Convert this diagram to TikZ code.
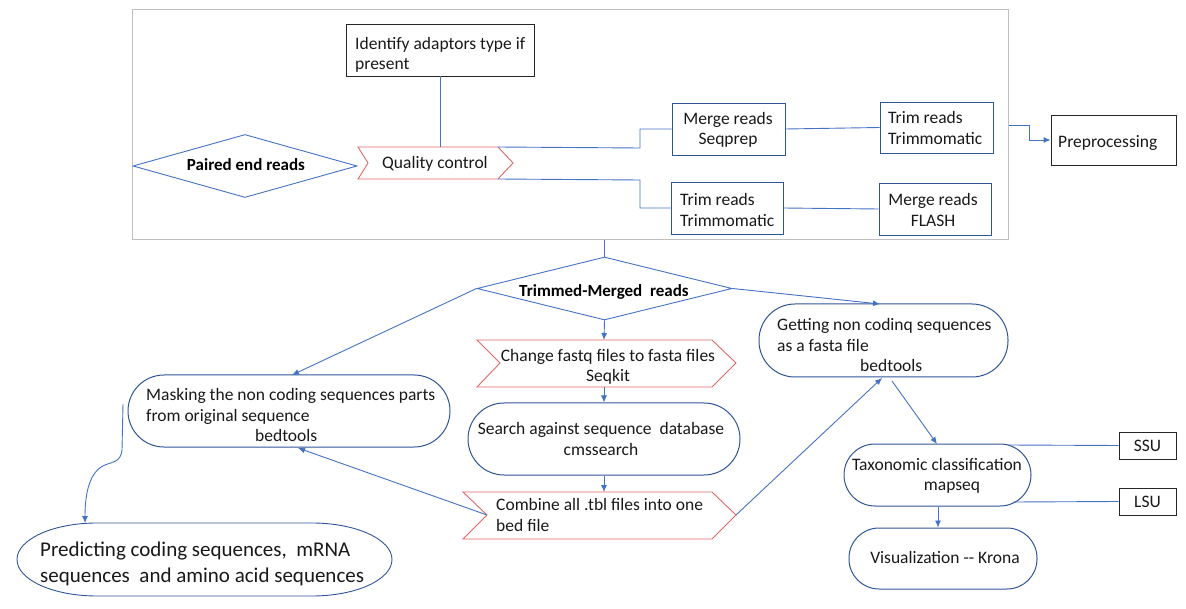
\documentclass[tikz,border=0pt]{standalone}
\usepackage{fontspec}
\setmainfont{Carlito}
\usetikzlibrary{arrows.meta,shapes.geometric}
\definecolor{lb}{HTML}{4472C4}
\definecolor{db}{HTML}{2F5597}
\definecolor{rd}{HTML}{E06666}
\definecolor{gr}{HTML}{BFBFBF}
\tikzset{
  txt/.style={font=\fontsize{17.5}{20.5}\selectfont, inner sep=0pt, align=left, text=black!90},
  btxt/.style={font=\fontsize{17}{20}\selectfont\bfseries, inner sep=0pt, align=center, text=black},
  conn/.style={draw=lb, line width=0.9pt},
  arr/.style={conn, -{Latex[length=7pt,width=6pt]}},
  kbox/.style={draw=black!85, line width=0.9pt, inner sep=0pt},
  bbox/.style={draw=db, line width=0.9pt, inner sep=0pt},
  stad/.style={draw=db, line width=1pt, inner sep=0pt, rounded corners=#1},
  diam/.style={diamond, draw=lb, line width=0.9pt, inner sep=0pt},
  chev/.style={draw=rd, line width=0.9pt},
}
\begin{document}
\begin{tikzpicture}[x=1pt,y=-1pt]
\useasboundingbox (0,0) rectangle (1186,609);

% outer preprocessing frame
\node[draw=gr, line width=1pt, minimum width=876pt, minimum height=230pt, inner sep=0pt] (outer) at (570,125) {};

% top section
\node[kbox, minimum width=188pt, minimum height=52pt] (id) at (440,50) {};
\node[txt, anchor=west] (idt) at (355,55) {Identify adaptors type if\\present};

\node[diam, minimum width=224pt, minimum height=63pt] (pe) at (245,166) {};
\node[btxt] (pet) at (246,165) {Paired end reads};

% quality control chevron
\coordinate (qc-nw) at (358,147);
\coordinate (qc-ne) at (498,147);
\coordinate (qc-e) at (513,163);
\coordinate (qc-se) at (498,179);
\coordinate (qc-sw) at (358,179);
\coordinate (qc-w) at (368,163);
\draw[chev] (qc-nw) -- (qc-ne) -- (qc-e) -- (qc-se) -- (qc-sw) -- (qc-w) -- cycle;
\node[txt, anchor=west] (qct) at (382,164) {Quality control};
\coordinate (qc-n) at (440,147);

\draw[conn] (id.south) -- (qc-n);

\node[bbox, minimum width=113pt, minimum height=52pt] (mr1) at (728.5,129) {};
\node[txt, align=center] (mr1t) at (728,130) {Merge reads\\Seqprep};
\node[bbox, minimum width=113pt, minimum height=51pt] (tr1) at (936.5,127.5) {};
\node[txt, anchor=west] (tr1t) at (888,128) {Trim reads\\Trimmomatic};
\node[bbox, minimum width=112pt, minimum height=52pt] (tr2) at (727,208) {};
\node[txt, anchor=west] (tr2t) at (680,210) {Trim reads\\Trimmomatic};
\node[bbox, minimum width=112pt, minimum height=52pt] (mr2) at (935,209) {};
\node[txt, align=center] (mr2t) at (933,210) {Merge reads\\FLASH};

\draw[conn] (qc-ne) -- (640,148) |- (mr1.west);
\draw[conn] (qc-se) -- (640,180) |- (tr2.west);
\draw[conn] (mr1.east) -- (tr1.west);
\draw[conn] (tr2.east) -- (mr2.west);

\node[kbox, minimum width=125pt, minimum height=50pt] (pre) at (1113.5,140) {};
\node[txt, anchor=west] (pret) at (1058,143) {Preprocessing};
\draw[arr] (outer.east) -- (1029,125) |- (pre.west);

% middle column
\node[diam, minimum width=255pt, minimum height=63pt] (tm) at (604.5,288.5) {};
\node[btxt] (tmt) at (604,292) {Trimmed-Merged\ \ reads};
\draw[conn] (tm.north) -- (tm.north |- outer.south);

\coordinate (ch-nw) at (477,340);
\coordinate (ch-ne) at (712,340);
\coordinate (ch-e) at (736,363);
\coordinate (ch-se) at (712,387);
\coordinate (ch-sw) at (477,387);
\coordinate (ch-w) at (500,363);
\coordinate (ch-n) at (604,340);
\coordinate (ch-s) at (604,387);
\draw[chev] (ch-nw) -- (ch-ne) -- (ch-e) -- (ch-se) -- (ch-sw) -- (ch-w) -- cycle;
\node[txt, align=center] (cht) at (608,367) {Change fastq files to fasta files\\Seqkit};
\draw[arr] (tm.south) -- (ch-n);

\node[stad=36pt, minimum width=272pt, minimum height=72pt] (se) at (604,439) {};
\node[txt, align=center] (set) at (601,439) {Search against sequence\ \ database\\cmssearch};
\draw[arr] (ch-s) -- (se.north);

\coordinate (co-nw) at (463,492);
\coordinate (co-ne) at (712,492);
\coordinate (co-e) at (736,515);
\coordinate (co-se) at (712,539);
\coordinate (co-sw) at (463,539);
\coordinate (co-w) at (487,515);
\coordinate (co-n) at (604,492);
\draw[chev] (co-nw) -- (co-ne) -- (co-e) -- (co-se) -- (co-sw) -- (co-w) -- cycle;
\node[txt, anchor=west] (cot) at (496,515) {Combine all .tbl files into one\\bed file};
\draw[arr] (se.south) -- (co-n);

% left branch
\node[stad=36pt, minimum width=322pt, minimum height=72pt] (mk) at (289,411) {};
\node[txt, anchor=west] (mkt) at (146,415) {Masking the non coding sequences\ parts\\from original sequence\\\hspace*{109pt}bedtools};
\coordinate (mk-in1) at (292,375);
\coordinate (mk-in2) at (298,448);
\coordinate (mk-out) at (123,404);
\draw[arr] (tm.west) -- (mk-in1);
\draw[arr] (co-w) -- (mk-in2);

\node[minimum width=375pt, minimum height=73pt, inner sep=0pt] (pr) at (204.5,559.5) {};
\draw[draw=db, line width=0.9pt] (312,523) arc[start angle=-90, end angle=90, x radius=80, y radius=36.5]
  -- (97,596) arc[start angle=90, end angle=270, x radius=80, y radius=36.5] -- cycle;
\node[txt, anchor=west, font=\fontsize{21}{26}\selectfont] (prt) at (40,564) {Predicting coding sequences,\ \ mRNA\\sequences\ \ and amino acid sequences};
\coordinate (pr-in) at (85,523);
\draw[arr] (mk-out) -- (122,450) .. controls (121,462) and (112,462) .. (105,465) .. controls (90,471) and (85,492) .. (pr-in);

% right branch
\node[stad=36pt, minimum width=249pt, minimum height=73pt] (ge) at (883.5,340.5) {};
\node[txt, anchor=west] (get) at (777,345) {Getting non codinq sequences\\as a fasta file\\\hspace*{83pt}bedtools};
\coordinate (ge-in1) at (880,304);
\coordinate (ge-in2) at (882,378);
\coordinate (ge-out) at (892,381);
\draw[arr] (tm.east) -- (ge-in1);
\draw[arr] (co-e) -- (ge-in2);

\node[stad=31pt, minimum width=187pt, minimum height=62pt] (tx) at (937.5,475) {};
\node[txt, align=center] (txt1) at (937,476) {Taxonomic\ classification\\\hspace*{30pt}mapseq};
\coordinate (tx-in) at (937,444);
\draw[arr] (ge-out) -- (tx-in);

\node[kbox, minimum width=57pt, minimum height=27pt] (ssu) at (1147.5,445.5) {};
\node[txt] (ssut) at (1147.5,445.5) {SSU};
\node[kbox, minimum width=57pt, minimum height=27pt] (lsu) at (1147.5,501.5) {};
\node[txt] (lsut) at (1147.5,501.5) {LSU};
\coordinate (tx-ssu) at (1008,445);
\coordinate (tx-lsu) at (1013,502);
\draw[conn] (ssu.west) -- (tx-ssu);
\draw[conn] (lsu.west) -- (tx-lsu);

\node[stad=30pt, minimum width=188pt, minimum height=61pt] (vi) at (943,558.5) {};
\node[txt] (vit) at (945,557) {Visualization -{}- Krona};
\draw[arr] (tx.south -| 938,0) -- (vi.north -| 938,0);
\end{tikzpicture}
\end{document}
